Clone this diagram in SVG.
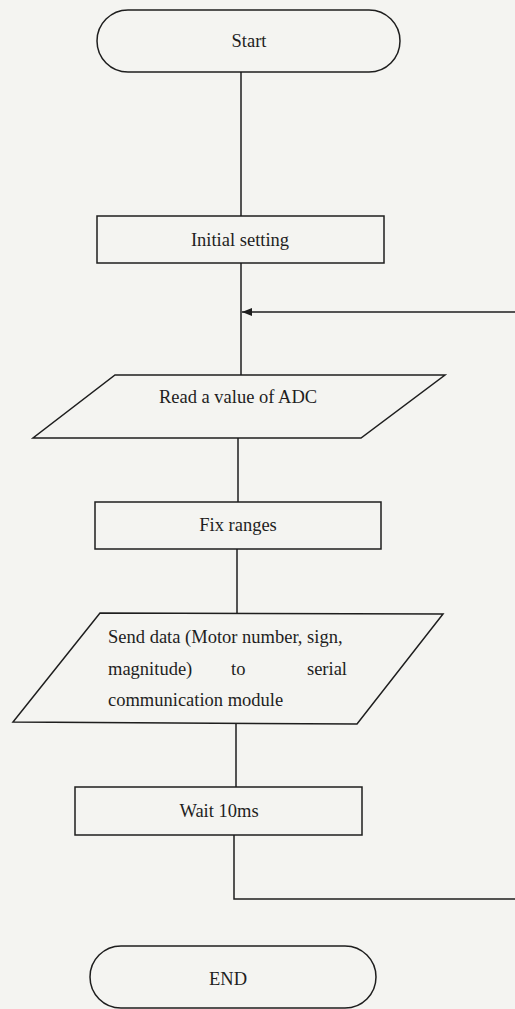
<svg xmlns="http://www.w3.org/2000/svg" width="515" height="1009" viewBox="0 0 515 1009">
<style>
.s{fill:none;stroke:#1e1e1e;stroke-width:1.5}
.t{font-family:"Liberation Serif","Times New Roman",serif;font-size:18.5px;fill:#1e1e1e}
.c{text-anchor:middle}
</style>
<defs>
<marker id="ah" markerWidth="12" markerHeight="10" refX="10" refY="4" orient="auto" markerUnits="userSpaceOnUse">
<path d="M0,0 L10,4 L0,8 Z" fill="#1e1e1e"/>
</marker>
</defs>
<rect width="515" height="1009" fill="#f4f4f1"/>
<g id="connectors">
<line class="s" x1="241" y1="72" x2="241" y2="216"/>
<line class="s" x1="241" y1="263" x2="241" y2="375"/>
<path class="s" d="M515,312 L242,312" marker-end="url(#ah)"/>
<line class="s" x1="238" y1="438" x2="238" y2="502"/>
<line class="s" x1="237" y1="549" x2="237" y2="613"/>
<line class="s" x1="236" y1="724" x2="236" y2="787"/>
<path class="s" d="M234,835 L234,899 L515,899"/>
</g>
<g id="start">
<rect class="s" x="97" y="10" width="303" height="62" rx="31" ry="31"/>
<text class="t c" x="249" y="47">Start</text>
</g>
<g id="init">
<rect class="s" x="97" y="216" width="287" height="47"/>
<text class="t c" x="240" y="246">Initial setting</text>
</g>
<g id="read">
<polygon class="s" points="115,375 445,375 361,438 33,438"/>
<text class="t c" x="238" y="403">Read a value of ADC</text>
</g>
<g id="fix">
<rect class="s" x="95" y="502" width="286" height="47"/>
<text class="t c" x="238" y="531">Fix ranges</text>
</g>
<g id="send">
<polygon class="s" points="100,613 443,614 357,724 13,722"/>
<text class="t" x="108" y="643">Send data (Motor number, sign,</text>
<text class="t" x="108" y="675">magnitude)</text>
<text class="t" x="231" y="675">to</text>
<text class="t" x="347" y="675" text-anchor="end">serial</text>
<text class="t" x="108" y="706">communication module</text>
</g>
<g id="wait">
<rect class="s" x="75" y="787" width="287" height="48"/>
<text class="t c" x="219" y="817">Wait 10ms</text>
</g>
<g id="end">
<rect class="s" x="90" y="946" width="286" height="62" rx="31" ry="31"/>
<text class="t c" x="228" y="985">END</text>
</g>
</svg>
